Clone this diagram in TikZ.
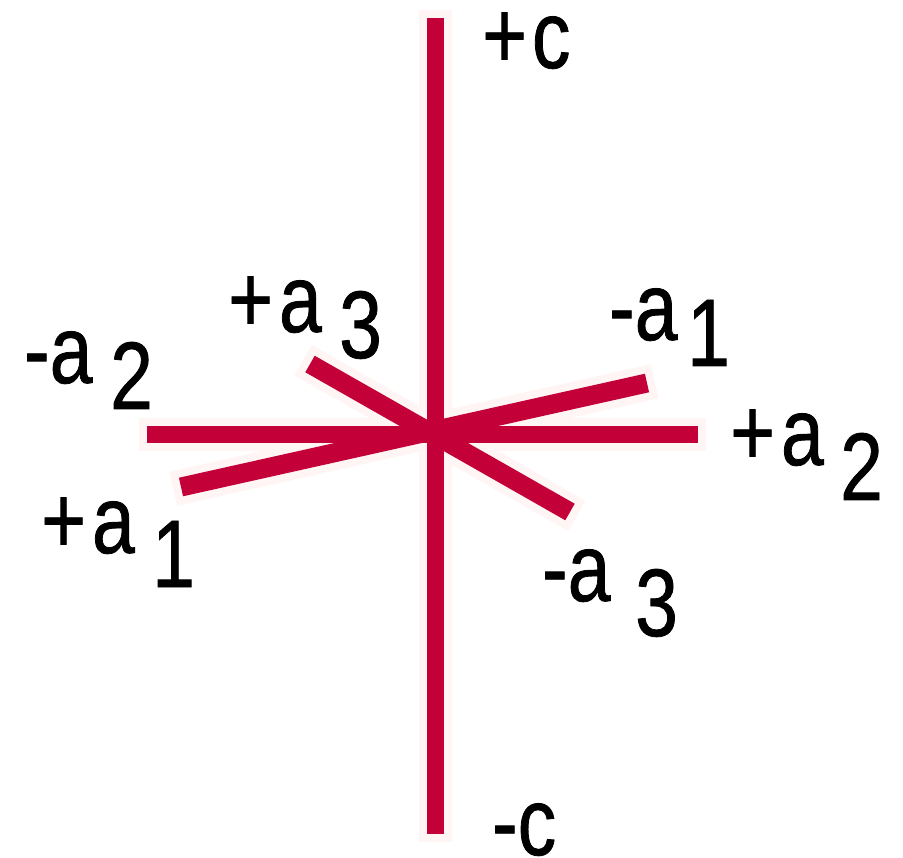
\documentclass[tikz,border=0pt]{standalone}
\usepackage{fontspec}
\setmainfont[FakeStretch=0.8,FakeBold=0.8]{Liberation Sans}
\definecolor{axisred}{RGB}{196,0,56}
\definecolor{axishalo}{RGB}{255,245,245}
\tikzset{
  axisline/.style={axisred,line width=17pt},
  oblique/.style={axisred,line width=19pt},
  axishaze/.style={axishalo,line width=33pt,shorten <=-8pt,shorten >=-8pt},
  obliquehaze/.style={axishalo,line width=35pt,shorten <=-8pt,shorten >=-8pt},
  axislabel/.style={inner sep=0pt,anchor=base west,font=\fontsize{96}{96}\selectfont}
}
\begin{document}
\begin{tikzpicture}[x=1pt,y=-1pt,line cap=butt]
  \useasboundingbox (0,0) rectangle (903,858);
  % axis ends
  \coordinate (ctop) at (435.5,18);
  \coordinate (cbot) at (435.5,834);
  \coordinate (atwoneg) at (147,434.5);
  \coordinate (atwopos) at (698,434.5);
  \coordinate (aonepos) at (181,487);
  \coordinate (aoneneg) at (647,383);
  \coordinate (athreepos) at (310,364);
  \coordinate (athreeneg) at (570,512);
  \draw[axishaze] (ctop)--(cbot);
  \draw[axishaze] (atwoneg)--(atwopos);
  \draw[obliquehaze] (aonepos)--(aoneneg);
  \draw[obliquehaze] (athreepos)--(athreeneg);
  \draw[axisline] (ctop)--(cbot);
  \draw[axisline] (atwoneg)--(atwopos);
  \draw[oblique] (aonepos)--(aoneneg);
  \draw[oblique] (athreepos)--(athreeneg);
  % labels
  \node[axislabel] (lcpos) at (482,68) {+\kern5pt c};
  \node[axislabel] (lcneg) at (492,855) {-c};
  \node[axislabel] (lathreepos) at (228,332) {+\kern6pt a};
  \node[axislabel] (sthreepos) at (339,358) {3};
  \node[axislabel] (laoneneg) at (609,340) {-a};
  \node[axislabel] (soneneg) at (687,366) {1};
  \node[axislabel] (latwoneg) at (24,383) {-a};
  \node[axislabel] (stwoneg) at (110,409) {2};
  \node[axislabel] (latwopos) at (730,465) {+\kern6pt a};
  \node[axislabel] (stwopos) at (840,500) {2};
  \node[axislabel] (laonepos) at (41,553) {+\kern6pt a};
  \node[axislabel] (sonepos) at (152,587) {1};
  \node[axislabel] (lathreeneg) at (542,601) {-a};
  \node[axislabel] (sthreeneg) at (635,636) {3};
\end{tikzpicture}
\end{document}
